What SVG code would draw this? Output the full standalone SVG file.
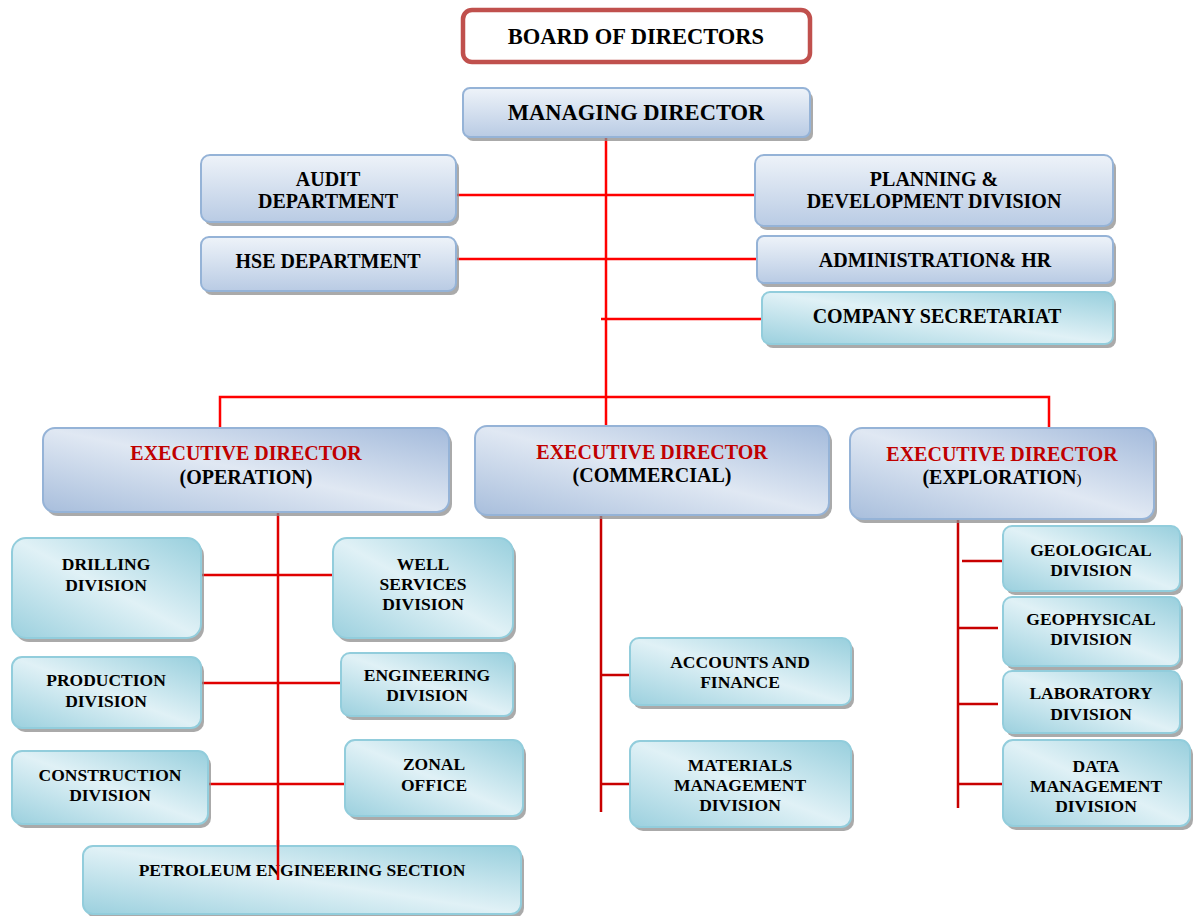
<svg xmlns="http://www.w3.org/2000/svg" width="1195" height="916" viewBox="0 0 1195 916">
  <defs>
    <linearGradient id="gBlue" x1="0" y1="0" x2="0" y2="1">
      <stop offset="0" stop-color="#eef3f9"/>
      <stop offset="1" stop-color="#b9cbe4"/>
    </linearGradient>
    <linearGradient id="gExec" x1="0" y1="1" x2="1" y2="0">
      <stop offset="0" stop-color="#a8bedc"/>
      <stop offset="0.5" stop-color="#e0e8f3"/>
      <stop offset="1" stop-color="#a3badb"/>
    </linearGradient>
    <linearGradient id="gTeal" x1="0" y1="1" x2="1" y2="0">
      <stop offset="0" stop-color="#9bd0de"/>
      <stop offset="0.5" stop-color="#e0f1f6"/>
      <stop offset="1" stop-color="#98cfdd"/>
    </linearGradient>
    <style>
      .shadow { fill: #8e8e8e; opacity: 0.75; }
      .blue { fill: url(#gBlue); stroke: #95b3d7; stroke-width: 2; }
      .exec { fill: url(#gExec); stroke: #95b3d7; stroke-width: 2; }
      .teal { fill: url(#gTeal); stroke: #92cddc; stroke-width: 2; }
      .board { fill: #ffffff; stroke: #c0504d; stroke-width: 4.5; }
      text { font-family: "Liberation Serif", "Times New Roman", serif; font-weight: bold; text-anchor: middle; fill: #000; }
      .t22 { font-size: 22.5px; }
      .t19 { font-size: 20px; }
      .t20 { font-size: 20px; }
      .t17 { font-size: 17.5px; }
      .red { fill: #c00000; }
      .small { font-size: 15px; font-weight: normal; }
      .c1 { stroke: #ff0000; stroke-width: 2.5; fill: none; }
      .c2 { stroke: #e00000; stroke-width: 2.5; fill: none; }
      .c3 { stroke: #c80000; stroke-width: 2.5; fill: none; }
    </style>
  </defs>

  <!-- connectors -->
  <g id="connectors">
    <line class="c1" x1="606" y1="137" x2="606" y2="427"/>
    <line class="c1" x1="456" y1="195" x2="755" y2="195"/>
    <line class="c1" x1="456" y1="259" x2="757" y2="259"/>
    <line class="c1" x1="601" y1="319" x2="762" y2="319"/>
    <polyline class="c1" points="220,428 220,397 1049,397 1049,428"/>
    <!-- operation -->
    <line class="c2" x1="278" y1="512" x2="278" y2="882"/>
    <line class="c2" x1="201" y1="575" x2="333" y2="575"/>
    <line class="c2" x1="201" y1="683" x2="341" y2="683"/>
    <line class="c2" x1="208" y1="784" x2="345" y2="784"/>
    <!-- commercial -->
    <line class="c3" x1="601" y1="513" x2="601" y2="812"/>
    <line class="c3" x1="601" y1="675" x2="630" y2="675"/>
    <line class="c3" x1="601" y1="784" x2="630" y2="784"/>
    <!-- exploration -->
    <line class="c3" x1="958" y1="519" x2="958" y2="808"/>
    <line class="c3" x1="962" y1="561" x2="1003" y2="561"/>
    <line class="c3" x1="958" y1="628" x2="998" y2="628"/>
    <line class="c3" x1="958" y1="704" x2="998" y2="704"/>
    <line class="c3" x1="958" y1="784" x2="1005" y2="784"/>
  </g>

  <g id="board">
    <rect class="board" x="463" y="10" width="347" height="52" rx="9"/>
    <text class="t22" x="636" y="44">BOARD OF DIRECTORS</text>
  </g>

  <g id="managing-director">
    <rect class="shadow" x="466" y="92" width="347" height="49" rx="7"/>
    <rect class="blue" x="463" y="88" width="347" height="49" rx="7"/>
    <text class="t22" x="636" y="120">MANAGING DIRECTOR</text>
  </g>

  <g id="audit">
    <rect class="shadow" x="204" y="159" width="255" height="67" rx="9"/>
    <rect class="blue" x="201" y="155" width="255" height="67" rx="9"/>
    <text class="t19" x="328" y="186">AUDIT</text>
    <text class="t19" x="328" y="208">DEPARTMENT</text>
  </g>

  <g id="hse">
    <rect class="shadow" x="204" y="241" width="255" height="54" rx="8"/>
    <rect class="blue" x="201" y="237" width="255" height="54" rx="8"/>
    <text class="t19" x="328" y="268">HSE DEPARTMENT</text>
  </g>

  <g id="planning">
    <rect class="shadow" x="758" y="159" width="358" height="71" rx="9"/>
    <rect class="blue" x="755" y="155" width="358" height="71" rx="9"/>
    <text class="t19" x="934" y="186">PLANNING &amp;</text>
    <text class="t19" x="934" y="208">DEVELOPMENT DIVISION</text>
  </g>

  <g id="admin-hr">
    <rect class="shadow" x="760" y="240" width="356" height="47" rx="7"/>
    <rect class="blue" x="757" y="236" width="356" height="47" rx="7"/>
    <text class="t19" x="935" y="267">ADMINISTRATION&amp; HR</text>
  </g>

  <g id="company-secretariat">
    <rect class="shadow" x="765" y="296" width="351" height="52" rx="8"/>
    <rect class="teal" x="762" y="292" width="351" height="52" rx="8"/>
    <text class="t19" x="937" y="323">COMPANY SECRETARIAT</text>
  </g>

  <g id="ed-operation">
    <rect class="shadow" x="46" y="432" width="406" height="84" rx="12"/>
    <rect class="exec" x="43" y="428" width="406" height="84" rx="12"/>
    <text class="t20 red" x="246" y="460">EXECUTIVE DIRECTOR</text>
    <text class="t20" x="246" y="484">(OPERATION)</text>
  </g>

  <g id="ed-commercial">
    <rect class="shadow" x="478" y="430" width="354" height="89" rx="12"/>
    <rect class="exec" x="475" y="426" width="354" height="89" rx="12"/>
    <text class="t20 red" x="652" y="459">EXECUTIVE DIRECTOR</text>
    <text class="t20" x="652" y="482">(COMMERCIAL)</text>
  </g>

  <g id="ed-exploration">
    <rect class="shadow" x="853" y="432" width="304" height="91" rx="12"/>
    <rect class="exec" x="850" y="428" width="304" height="91" rx="12"/>
    <text class="t20 red" x="1002" y="461">EXECUTIVE DIRECTOR</text>
    <text class="t20" x="1002" y="484">(EXPLORATION<tspan class="small">)</tspan></text>
  </g>

  <g id="drilling">
    <rect class="shadow" x="15" y="542" width="189" height="100" rx="14"/>
    <rect class="teal" x="12" y="538" width="189" height="100" rx="14"/>
    <text class="t17" x="106" y="570">DRILLING</text>
    <text class="t17" x="106" y="591">DIVISION</text>
  </g>

  <g id="well-services">
    <rect class="shadow" x="336" y="542" width="180" height="100" rx="14"/>
    <rect class="teal" x="333" y="538" width="180" height="100" rx="14"/>
    <text class="t17" x="423" y="570">WELL</text>
    <text class="t17" x="423" y="590">SERVICES</text>
    <text class="t17" x="423" y="610">DIVISION</text>
  </g>

  <g id="production">
    <rect class="shadow" x="15" y="661" width="189" height="71" rx="10"/>
    <rect class="teal" x="12" y="657" width="189" height="71" rx="10"/>
    <text class="t17" x="106" y="686">PRODUCTION</text>
    <text class="t17" x="106" y="707">DIVISION</text>
  </g>

  <g id="engineering">
    <rect class="shadow" x="344" y="657" width="172" height="63" rx="9"/>
    <rect class="teal" x="341" y="653" width="172" height="63" rx="9"/>
    <text class="t17" x="427" y="681">ENGINEERING</text>
    <text class="t17" x="427" y="701">DIVISION</text>
  </g>

  <g id="construction">
    <rect class="shadow" x="15" y="755" width="196" height="73" rx="10"/>
    <rect class="teal" x="12" y="751" width="196" height="73" rx="10"/>
    <text class="t17" x="110" y="781">CONSTRUCTION</text>
    <text class="t17" x="110" y="801">DIVISION</text>
  </g>

  <g id="zonal-office">
    <rect class="shadow" x="348" y="744" width="178" height="76" rx="10"/>
    <rect class="teal" x="345" y="740" width="178" height="76" rx="10"/>
    <text class="t17" x="434" y="770">ZONAL</text>
    <text class="t17" x="434" y="791">OFFICE</text>
  </g>

  <g id="petroleum-engineering">
    <rect class="shadow" x="86" y="850" width="438" height="68" rx="10"/>
    <rect class="teal" x="83" y="846" width="438" height="68" rx="10"/>
    <text class="t17" x="302" y="876">PETROLEUM ENGINEERING SECTION</text>
  </g>

  <!-- trunk drawn over the petroleum section box -->
  <line class="c2" x1="278" y1="840" x2="278" y2="880"/>

  <g id="accounts-finance">
    <rect class="shadow" x="633" y="642" width="221" height="67" rx="9"/>
    <rect class="teal" x="630" y="638" width="221" height="67" rx="9"/>
    <text class="t17" x="740" y="668">ACCOUNTS AND</text>
    <text class="t17" x="740" y="688">FINANCE</text>
  </g>

  <g id="materials-management">
    <rect class="shadow" x="633" y="745" width="221" height="86" rx="10"/>
    <rect class="teal" x="630" y="741" width="221" height="86" rx="10"/>
    <text class="t17" x="740" y="771">MATERIALS</text>
    <text class="t17" x="740" y="791">MANAGEMENT</text>
    <text class="t17" x="740" y="811">DIVISION</text>
  </g>

  <g id="geological">
    <rect class="shadow" x="1006" y="530" width="177" height="65" rx="9"/>
    <rect class="teal" x="1003" y="526" width="177" height="65" rx="9"/>
    <text class="t17" x="1091" y="556">GEOLOGICAL</text>
    <text class="t17" x="1091" y="576">DIVISION</text>
  </g>

  <g id="geophysical">
    <rect class="shadow" x="1006" y="601" width="177" height="69" rx="9"/>
    <rect class="teal" x="1003" y="597" width="177" height="69" rx="9"/>
    <text class="t17" x="1091" y="625">GEOPHYSICAL</text>
    <text class="t17" x="1091" y="645">DIVISION</text>
  </g>

  <g id="laboratory">
    <rect class="shadow" x="1006" y="675" width="177" height="62" rx="9"/>
    <rect class="teal" x="1003" y="671" width="177" height="62" rx="9"/>
    <text class="t17" x="1091" y="699">LABORATORY</text>
    <text class="t17" x="1091" y="720">DIVISION</text>
  </g>

  <g id="data-management">
    <rect class="shadow" x="1006" y="744" width="187" height="86" rx="10"/>
    <rect class="teal" x="1003" y="740" width="187" height="86" rx="10"/>
    <text class="t17" x="1096" y="772">DATA</text>
    <text class="t17" x="1096" y="792">MANAGEMENT</text>
    <text class="t17" x="1096" y="812">DIVISION</text>
  </g>
</svg>
